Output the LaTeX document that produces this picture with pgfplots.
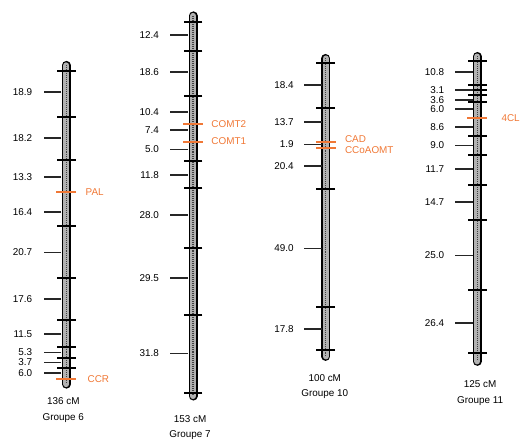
\documentclass[border=0pt]{standalone}
\usepackage{pgfplots}
\pgfplotsset{compat=1.18}
\usepackage{pgfplotstable}
\usepackage{fontspec}
\setmainfont{Liberation Sans}
\definecolor{lab}{HTML}{5C5C5C}
\definecolor{gene}{HTML}{F07836}

% chromosome rods: x, top, bottom (pixel positions, y downwards)
\pgfplotstableread{
x y
67 66
67 388
nan nan
195 16
195 400
nan nan
329 59
329 360
nan nan
482 57
482 365
}\rods

% loci crossing the rods
\pgfplotstableread{
x y
67 72
67 118
67 162
67 228
67 281
67 323
67 350
67 362
67 372
195 22
195 52
195 97
195 163
195 190
195 250
195 318
195 397
329 64
329 109
329 191
329 310
329 353
482 62
482 86
482 91
482 96
482 103
482 137
482 157
482 187
482 222
482 293
482 357
}\loci

% interval stubs left of the rods
\pgfplotstableread{
x y
53 93
53 139
53 179
53 214
53 255
53 302
53 337
53 356
53 366
53 377
181 35
181 73
181 113
181 131
181 151
181 177
181 217
181 281
181 357
316 86
316 123
316 146
316 168
316 251
316 332
469 73
469 91
469 101
469 110
469 128
469 147
469 171
469 204
469 258
469 326
}\stubs

% candidate genes
\pgfplotstableread{
x y
67 194
67 383
195 125
195 143
329 143
329 149
482 119
}\genes

\newcommand\len[3]{\node[anchor=east] at (axis cs:#1,#2) {#3};}

\begin{document}
\begin{tikzpicture}
\begin{axis}[
  scale only axis, width=523pt, height=447pt,
  xmin=0, xmax=523, ymin=0, ymax=447, y dir=reverse,
  axis lines=none, clip=false,
  every node/.append style={font=\fontsize{10.5}{11}\selectfont, text=lab, inner sep=0pt},
]
\addplot[draw=none] coordinates {(0,0) (523,447)};
% rods
\addplot[black, line width=9pt, line cap=round, unbounded coords=jump] table {\rods};
\addplot[black!30, line width=6pt, line cap=round, unbounded coords=jump] table {\rods};
\addplot[black!75, line width=1.4pt, dash pattern=on 1pt off 1pt, unbounded coords=jump] table {\rods};
% crossing loci and stubs
\addplot[only marks, mark=-, mark size=9.5pt, mark options={black, line width=2pt}] table {\loci};
\addplot[only marks, mark=-, mark size=9pt, mark options={black!85, line width=1.8pt}] table {\stubs};
\addplot[only marks, mark=-, mark size=10pt, mark options={gene, line width=2pt}] table {\genes};

% interval lengths (cM)
\len{36}{93}{18.9} \len{36}{139}{18.2} \len{36}{179}{13.3} \len{36}{214}{16.4}
\len{36}{255}{20.7} \len{36}{302}{17.6} \len{36}{337}{11.5} \len{36}{356}{5.3}
\len{36}{366}{3.7} \len{36}{377}{6.0}
\len{164}{35}{12.4} \len{164}{73}{18.6} \len{164}{113}{10.4} \len{164}{131}{7.4}
\len{164}{151}{5.0} \len{164}{177}{11.8} \len{164}{217}{28.0} \len{164}{281}{29.5}
\len{164}{357}{31.8}
\len{300}{86}{18.4} \len{300}{123}{13.7} \len{300}{146}{1.9} \len{300}{168}{20.4}
\len{300}{251}{49.0} \len{300}{332}{17.8}
\len{452}{73}{10.8} \len{452}{91}{3.1} \len{452}{101}{3.6} \len{452}{110}{6.0}
\len{452}{128}{8.6} \len{452}{147}{9.0} \len{452}{171}{11.7} \len{452}{204}{14.7}
\len{452}{258}{25.0} \len{452}{326}{26.4}

% gene names
\node[anchor=west, text=gene] at (axis cs:83,194) {PAL};
\node[anchor=west, text=gene] at (axis cs:85,383) {CCR};
\node[anchor=west, text=gene] at (axis cs:210,125) {COMT2};
\node[anchor=west, text=gene] at (axis cs:210,143) {COMT1};
\node[anchor=west, text=gene] at (axis cs:345,140) {CAD};
\node[anchor=west, text=gene] at (axis cs:345,152) {CCoAOMT};
\node[anchor=west, text=gene] at (axis cs:503,119) {4CL};

% group names
\node at (axis cs:64,405) {136 cM};
\node at (axis cs:64,422) {Groupe 6};
\node at (axis cs:192,423) {153 cM};
\node at (axis cs:192,439) {Groupe 7};
\node at (axis cs:328,382) {100 cM};
\node at (axis cs:328,398) {Groupe 10};
\node at (axis cs:485,388) {125 cM};
\node at (axis cs:485,405) {Groupe 11};
\end{axis}
\end{tikzpicture}
\end{document}
